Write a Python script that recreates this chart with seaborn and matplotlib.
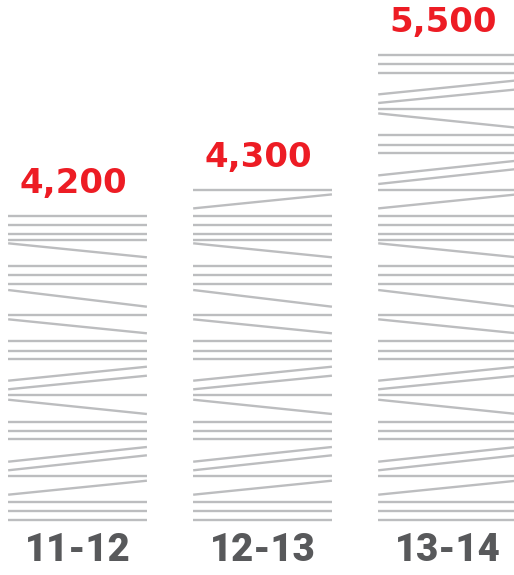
import matplotlib
matplotlib.use("Agg")
import matplotlib.pyplot as plt
import seaborn as sns
import pandas as pd

# data
seasons = ["11-12", "12-13", "13-14"]
totals = [4200, 4300, 5500]

RED = "#ed1c24"
DARK = "#58595b"
STRIPE = "#bcbdbf"

# one repeat of the striped bar texture, in pixels above the bar base
# (left end, right end) - equal ends means a flat stripe
STRIPE_REPEAT = 286.3
stripe_tile = [
    (0, 0), (8.7, 8.7), (18, 18), (25.3, 39.3), (44, 44),
    (49.7, 64.7), (58.3, 73), (80.7, 80.7), (89, 89), (98.3, 98.3),
    (120.3, 106), (124.7, 124.7), (130.7, 144.3), (139.3, 153.3),
    (160.7, 160.7), (169.3, 169.3), (178.7, 178.7), (200.7, 186.7),
    (204.7, 204.7), (230, 213.3), (235.7, 235.7), (244.7, 244.7),
    (254, 254), (276.7, 262.7), (280.3, 280.3),
]

sns.set_theme(style="white")
fig = plt.figure(figsize=(5.14, 5.75), dpi=100)
ax = fig.add_axes([0, 55 / 575, 1, 520 / 575])

df = pd.DataFrame({"season": seasons, "total": totals})
sns.barplot(data=df, x="season", y="total", ax=ax, width=0.75,
            color="white", edgecolor="none", linewidth=0)

ax.set_xlim(-0.419, 2.359)
ax.set_ylim(1740, 5950)
sns.despine(ax=ax, left=True, bottom=True)
ax.set_yticks([])
ax.set_xlabel("")
ax.set_ylabel("")
ax.tick_params(axis="x", length=0, pad=8.5, labelsize=27.5, colors=DARK)
for lab in ax.get_xticklabels():
    lab.set_fontweight(900)
    lab.set_family(["Roboto", "DejaVu Sans"])

# all stripes, tiled upwards
stripes = []
for k in range(3):
    for l, r in stripe_tile:
        stripes.append((l + k * STRIPE_REPEAT, r + k * STRIPE_REPEAT))
flats = sorted(l for l, r in stripes if l == r)

inv = ax.transData.inverted()
y0 = ax.get_ylim()[0]
for bar, v in zip(ax.patches, totals):
    x0 = bar.get_x()
    x1 = x0 + bar.get_width()
    base_px = ax.transData.transform((0, y0))[1]
    h = ax.transData.transform((0, v))[1] - base_px
    # bar top snaps up to the next flat stripe
    top = min(f for f in flats if f >= h - 1.5)
    for l, r in stripes:
        if max(l, r) > top + 0.5:
            continue
        yl = inv.transform((0, base_px + l))[1]
        yr = inv.transform((0, base_px + r))[1]
        ax.plot([x0, x1], [yl, yr], color=STRIPE, lw=1.7,
                solid_capstyle="butt", clip_on=False, zorder=3)
    top_y = inv.transform((0, base_px + top))[1]
    ax.annotate(f"{v:,}", xy=(x0 + bar.get_width() / 2, top_y),
                xytext=(-3, 16.5), textcoords="offset points",
                ha="center", va="baseline", color=RED,
                fontsize=24.5, fontweight="bold", family="DejaVu Sans")

fig.savefig("out.png", dpi=100)
